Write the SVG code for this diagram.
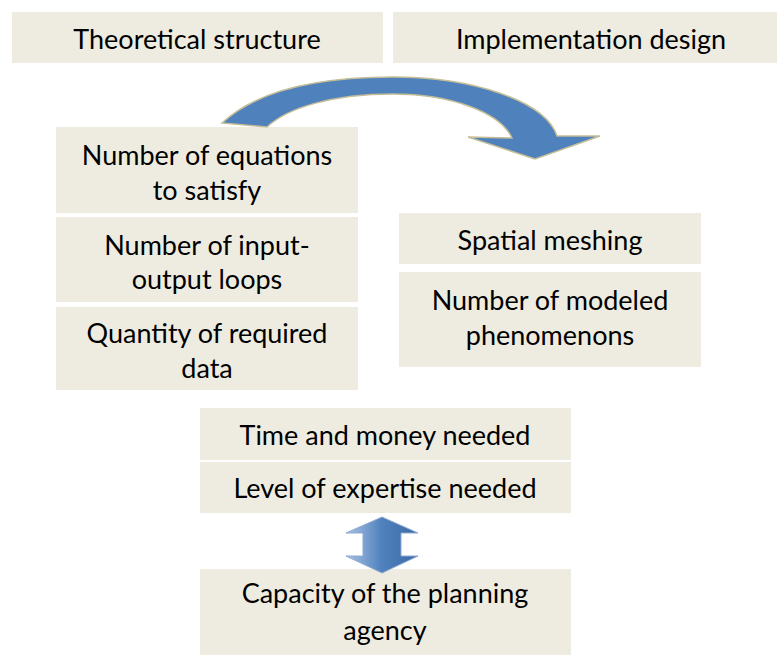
<svg xmlns="http://www.w3.org/2000/svg" width="777" height="655" viewBox="0 0 777 655">
<style>
.box{fill:#EEECE1;}
.t{font-family:Lato,"Liberation Sans",sans-serif;font-size:27px;fill:#000;text-anchor:middle;}
</style>
<defs>
<linearGradient id="dg" x1="0" y1="0" x2="1" y2="0">
<stop offset="0" stop-color="#A9C3E6"/>
<stop offset="0.5" stop-color="#4F81BD"/>
<stop offset="1" stop-color="#3A6AA6"/>
</linearGradient>
</defs>
<rect width="777" height="655" fill="#fff"/>
<g id="theoretical"><rect class="box" x="12" y="12" width="371" height="51"/><text class="t" x="197" y="49">Theoretical structure</text></g>
<g id="implementation"><rect class="box" x="393" y="12" width="384" height="51"/><text class="t" x="591" y="49">Implementation design</text></g>
<g id="equations"><rect class="box" x="56" y="127" width="302" height="86"/><text class="t" x="207" y="165">Number of equations</text><text class="t" x="207" y="200">to satisfy</text></g>
<g id="loops"><rect class="box" x="56" y="217" width="302" height="85"/><text class="t" x="207" y="255">Number of input-</text><text class="t" x="207" y="289">output loops</text></g>
<g id="data"><rect class="box" x="56" y="307" width="302" height="83"/><text class="t" x="207" y="343">Quantity of required</text><text class="t" x="207" y="378">data</text></g>
<g id="meshing"><rect class="box" x="399" y="213" width="302" height="51"/><text class="t" x="550" y="250">Spatial meshing</text></g>
<g id="phenomenons"><rect class="box" x="399" y="272" width="302" height="95"/><text class="t" x="550" y="310">Number of modeled</text><text class="t" x="550" y="345">phenomenons</text></g>
<g id="time"><rect class="box" x="200" y="408" width="371" height="52"/><text class="t" x="385" y="445">Time and money needed</text></g>
<g id="expertise"><rect class="box" x="200" y="462" width="371" height="51"/><text class="t" x="385" y="498">Level of expertise needed</text></g>
<g id="capacity"><rect class="box" x="200" y="569" width="371" height="86"/><text class="t" x="385" y="603">Capacity of the planning</text><text class="t" x="385" y="640">agency</text></g>
<g id="connectors">
<path d="M 222,123 C 262,86 330,77 393,77 C 470,77 545,100 557,136 L 600,136 L 535,159 L 468,137 L 512,138 C 500,112 450,94 393,94 C 332,94 287,108 267,127 Z" fill="#4F81BD" stroke="#C4BD97" stroke-width="1.5"/>
<path d="M 382,517 L 418,533 L 401,533 L 401,556 L 418,556 L 382,573 L 346,556 L 363,556 L 363,533 L 346,533 Z" fill="url(#dg)" stroke="#8FA9CF" stroke-width="1"/>
</g>
</svg>
